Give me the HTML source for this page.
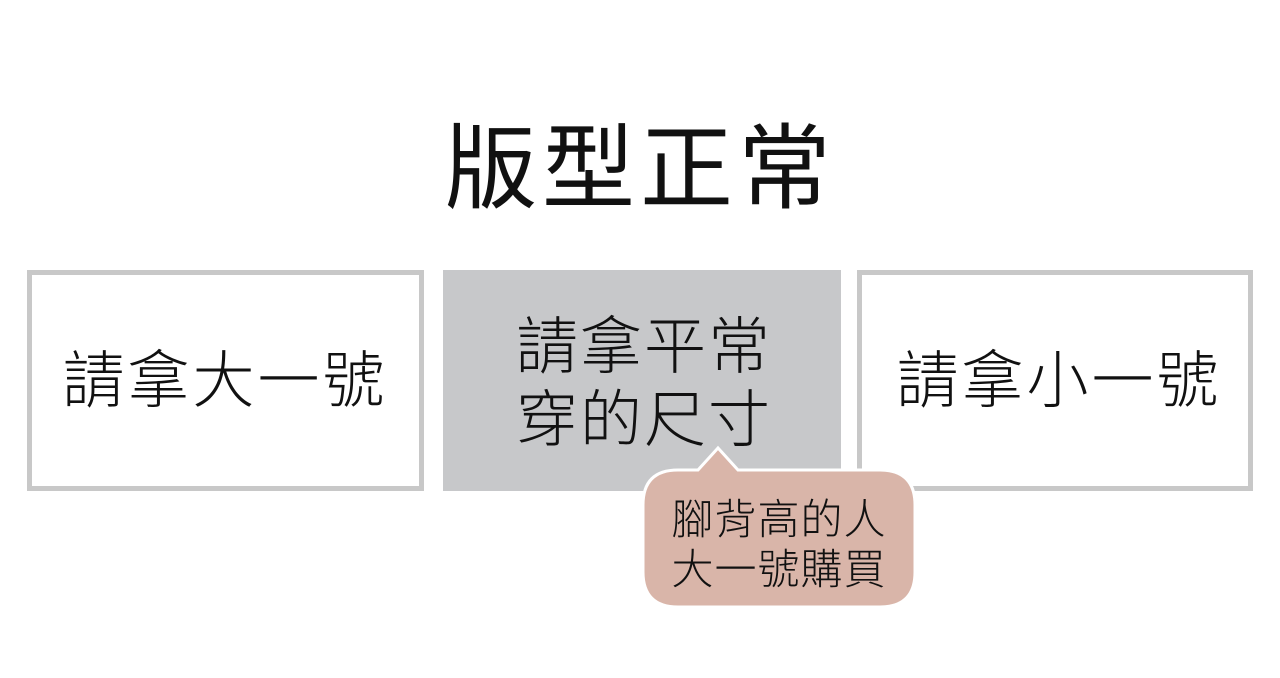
<!DOCTYPE html>
<html><head><meta charset="utf-8"><style>
html,body{margin:0;padding:0;background:#fff;width:1280px;height:678px;overflow:hidden}
text{font-family:"Liberation Sans","Noto Sans CJK TC",sans-serif;fill:#111}
</style></head><body>
<svg width="1280" height="678" viewBox="0 0 1280 678" xmlns="http://www.w3.org/2000/svg">
<text x="640" y="201" font-size="93" text-anchor="middle" letter-spacing="5">版型正常</text>
<rect x="29.5" y="272.5" width="392" height="216" fill="#fff" stroke="#c8c8c8" stroke-width="5"/>
<rect x="443" y="270" width="398" height="221" fill="#c7c8ca"/>
<rect x="859.5" y="272.5" width="391" height="216" fill="#fff" stroke="#c8c8c8" stroke-width="5"/>
<text x="225" y="402" font-size="62" font-weight="300" text-anchor="middle" letter-spacing="3">請拿大一號</text>
<text x="644" y="368" font-size="62" font-weight="300" text-anchor="middle" letter-spacing="2">請拿平常</text>
<text x="644" y="441" font-size="62" font-weight="300" text-anchor="middle" letter-spacing="2">穿的尺寸</text>
<text x="1059" y="402" font-size="62" font-weight="300" text-anchor="middle" letter-spacing="3">請拿小一號</text>
<path d="M678,470 L698,470 L718,448 L738,470 L880,470 Q915,470 915,505 L915,572 Q915,607 880,607 L678,607 Q643,607 643,572 L643,505 Q643,470 678,470 Z" fill="#d9b5a9" stroke="#fff" stroke-width="3"/>
<text x="779" y="534" font-size="42" font-weight="300" text-anchor="middle" letter-spacing="1">腳背高的人</text>
<text x="779" y="584" font-size="42" font-weight="300" text-anchor="middle" letter-spacing="1">大一號購買</text>
</svg>
</body></html>
